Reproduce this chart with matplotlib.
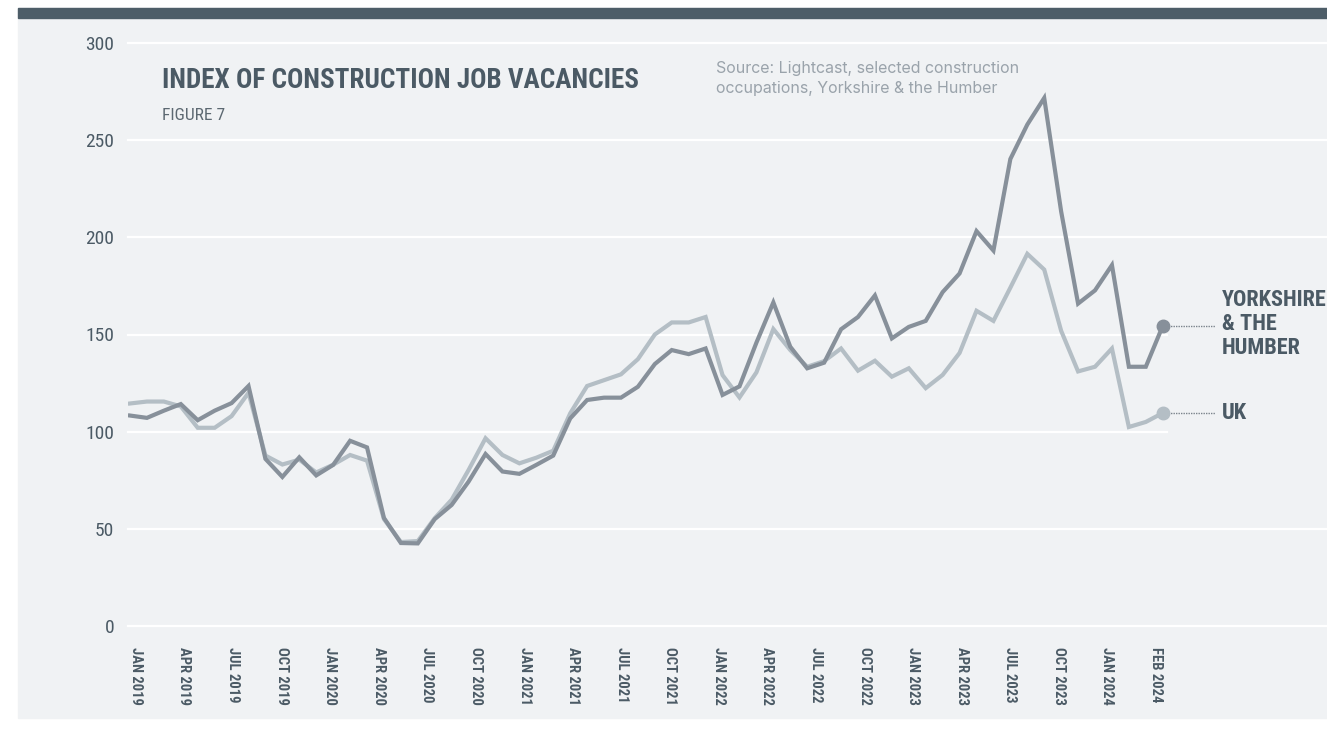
import numpy as np
import matplotlib
matplotlib.use("Agg")
import matplotlib.pyplot as plt
from matplotlib import font_manager as fm

# ---------------- data ----------------
yorkshire = [108.3, 107.1, 110.8, 114.2, 105.9, 110.8, 114.7, 123.5, 86.0, 76.7,
             86.8, 77.5, 82.9, 95.3, 91.9, 55.6, 42.7, 42.5, 55.0, 62.3,
             74.3, 88.5, 79.5, 78.3, 82.9, 87.7, 106.8, 116.3, 117.5, 117.5,
             123.1, 134.8, 142.0, 139.9, 142.8, 118.9, 123.3, 145.8, 166.5, 143.7,
             132.6, 135.5, 152.7, 159.0, 170.1, 148.0, 153.9, 157.0, 171.8, 181.4,
             203.2, 193.2, 240.3, 258.0, 271.7, 213.3, 165.9, 172.7, 185.7, 133.4,
             133.4, 154.4]
uk = [114.5, 115.5, 115.5, 113.0, 102.0, 102.0, 108.0, 120.0, 87.7, 83.1,
      85.6, 79.0, 83.0, 88.0, 85.1, 55.0, 43.2, 43.7, 55.5, 65.0,
      80.3, 96.6, 88.0, 83.7, 86.6, 90.2, 109.4, 123.5, 126.5, 129.5,
      137.3, 150.0, 156.2, 156.2, 159.0, 129.1, 117.6, 130.5, 152.8, 142.0,
      133.4, 136.3, 142.8, 131.4, 136.5, 128.3, 132.6, 122.4, 129.2, 140.5,
      162.2, 157.0, 174.1, 191.5, 183.4, 151.9, 131.0, 133.4, 142.8, 102.4,
      105.0, 109.6]
tick_labels = ["JAN 2019", "APR 2019", "JUL 2019", "OCT 2019", "JAN 2020", "APR 2020",
               "JUL 2020", "OCT 2020", "JAN 2021", "APR 2021", "JUL 2021", "OCT 2021",
               "JAN 2022", "APR 2022", "JUL 2022", "OCT 2022", "JAN 2023", "APR 2023",
               "JUL 2023", "OCT 2023", "JAN 2024", "FEB 2024"]
y_ticks = [0, 50, 100, 150, 200, 250, 300]
series_names = ["YORKSHIRE\n& THE\nHUMBER", "UK"]

# ---------------- fonts ----------------
avail = {f.name for f in fm.fontManager.ttflist}
cond = "Liberation Sans Narrow" if "Liberation Sans Narrow" in avail else (
    "Roboto Condensed" if "Roboto Condensed" in avail else "DejaVu Sans")
body = "Inter" if "Inter" in avail else "Liberation Sans"

BG = "#F0F2F4"
DARK_TXT = "#4B5A65"
C_YORK = "#87909A"
C_UK = "#B4BEC5"

W, H = 1327, 738
fig = plt.figure(figsize=(W / 100, H / 100), dpi=100)
fig.patch.set_facecolor("white")

# background panel and top bar
fig.patches.append(matplotlib.patches.Rectangle((18 / W, 1 - 718 / H), 1 - 18 / W, (718 - 8) / H,
                                                transform=fig.transFigure, color=BG, zorder=-2))
fig.patches.append(matplotlib.patches.Rectangle((18 / W, 1 - 18 / H), 1 - 18 / W, 10 / H,
                                                transform=fig.transFigure, color="#4D5D68", zorder=-1))

left_px, right_px = 128, 1327
bot_px, top_px = 626, 43
ax = fig.add_axes([left_px / W, 1 - bot_px / H, (right_px - left_px) / W, (bot_px - top_px) / H])
ax.set_facecolor("none")
ax.set_zorder(2)

x = np.arange(len(yorkshire))
px_per = 16.93
ax.set_xlim(-(130 - left_px) / px_per, (right_px - 130) / px_per)
ax.set_ylim(0, 300)

# gridlines (shorter where end labels sit)
frac_end = (1167 - left_px) / (right_px - left_px)
for yv in y_ticks:
    xmax = frac_end if yv in (100, 150) else 1.0
    ax.axhline(yv, xmin=0, xmax=xmax, color="white", lw=1.6, zorder=1, clip_on=False)

ax.plot(x, uk, color=C_UK, lw=3.0, zorder=3, solid_joinstyle="miter")
ax.plot(x, yorkshire, color=C_YORK, lw=3.0, zorder=4, solid_joinstyle="miter")

# end markers and connectors
last = len(x) - 1
conn_end = (1215 - 130) / px_per
lab_x = (1222 - 130) / px_per
for vals, col in [(yorkshire, C_YORK), (uk, C_UK)]:
    ax.plot([last], [vals[-1]], "o", color=col, ms=9, zorder=5)
    ax.plot([last, conn_end], [vals[-1], vals[-1]], color="#7B848C", lw=1.0,
            ls=(0, (1, 0.8)), zorder=2, clip_on=False)
ax.text(lab_x, yorkshire[-1] + 1, series_names[0], fontfamily=cond, fontweight="bold",
        fontsize=16, color=DARK_TXT, va="center", ha="left", linespacing=1.1)
ax.text(lab_x, uk[-1], series_names[1], fontfamily=cond, fontweight="bold",
        fontsize=16, color=DARK_TXT, va="center", ha="left")

# ticks
ax.set_yticks(y_ticks)
ax.set_yticklabels([str(v) for v in y_ticks], fontfamily=cond, fontsize=14, color=DARK_TXT)
ax.set_xticks(np.linspace(0.35, 60.6, len(tick_labels)))
ax.set_xticklabels(tick_labels, rotation=-90, fontfamily=cond, fontweight="bold",
                   fontsize=10.5, color=DARK_TXT, va="top", ha="center")
ax.tick_params(axis="both", length=0)
ax.tick_params(axis="y", pad=10)
ax.tick_params(axis="x", pad=15)
for s in ax.spines.values():
    s.set_visible(False)

# titles
fig.text(162 / W, 1 - 80 / H, "INDEX OF CONSTRUCTION JOB VACANCIES", fontfamily=cond,
         fontweight="bold", fontsize=19.5, color=DARK_TXT, va="center", ha="left")
fig.text(162 / W, 1 - 116 / H, "FIGURE 7", fontfamily=cond, fontsize=12.5,
         color="#5C6871", va="center", ha="left")
fig.text(716 / W, 1 - 61 / H, "Source: Lightcast, selected construction\noccupations, Yorkshire & the Humber",
         fontfamily=body, fontsize=11.5, color="#9AA3AB", va="top", ha="left", linespacing=1.4)

fig.savefig("out.png", dpi=100, facecolor=fig.get_facecolor())
